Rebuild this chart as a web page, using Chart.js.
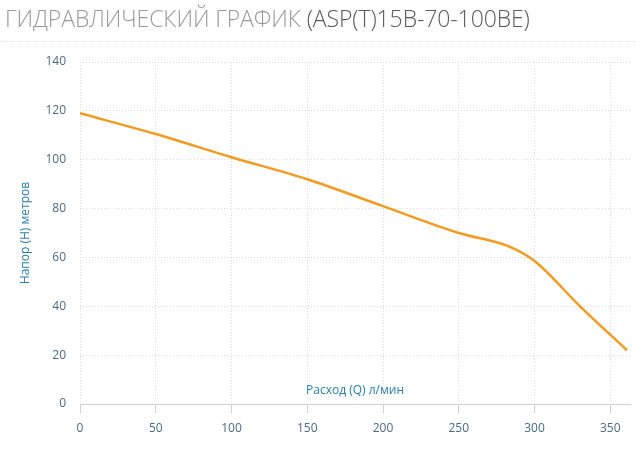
<!DOCTYPE html>
<html><head><meta charset="utf-8">
<script src="https://cdn.jsdelivr.net/npm/chart.js@4"></script>
<style>
html,body{margin:0;padding:0;background:#fff;}
#wrap{position:relative;width:636px;height:451px;}
#title{position:absolute;left:5px;top:2px;font-family:"Open Sans",sans-serif;font-weight:300;font-size:23px;color:#9a9a9a;white-space:nowrap;letter-spacing:-0.1px;}
#title span{color:#5a5a5a;}
#sep{position:absolute;left:0;top:41px;width:636px;border-top:1px dotted #e2e2e2;}
canvas{position:absolute;left:0;top:0;}
</style></head><body>
<div id="wrap">
<canvas id="c" width="636" height="451"></canvas>
<div id="title">ГИДРАВЛИЧЕСКИЙ ГРАФИК <span>(ASP(T)15B-70-100BE)</span></div>
<div id="sep"></div>
</div>
<script>
const flowQ = [0, 50, 100, 150, 200, 250, 283, 300, 330, 361];
const headH = [119, 110.5, 101, 92, 81, 70, 64.5, 58.5, 40, 22];
const xTicks = [0, 50, 100, 150, 200, 250, 300, 350];
const yTicks = [0, 20, 40, 60, 80, 100, 120, 140];
const xTitle = "Расход (Q) л/мин";
const yTitle = "Напор (H) метров";

const points = flowQ.map((q, i) => ({x: q, y: headH[i]}));

const xTitlePlugin = {
  id: 'xTitle',
  afterDraw(chart) {
    const {ctx, chartArea} = chart;
    ctx.save();
    ctx.font = '12px "Open Sans", sans-serif';
    ctx.fillStyle = '#2a7fa9';
    ctx.textAlign = 'center';
    ctx.textBaseline = 'middle';
    ctx.fillText(xTitle, (chartArea.left + chartArea.right) / 2, chartArea.bottom - 13);
    ctx.restore();
  }
};

new Chart(document.getElementById('c'), {
  type: 'line',
  data: {datasets: [{
    data: points,
    borderColor: '#f39a21',
    borderWidth: 2.5,
    pointRadius: 0,
    fill: false,
    cubicInterpolationMode: 'monotone'
  }]},
  options: {
    responsive: false,
    animation: false,
    layout: {padding: {top: 62, right: 6, left: 0, bottom: 0}},
    plugins: {legend: {display: false}, tooltip: {enabled: false}},
    scales: {
      x: {
        type: 'linear', min: 0, max: 363,
        afterBuildTicks: s => { s.ticks = xTicks.map(v => ({value: v})); },
        afterFit: s => { s.height = 47; },
        ticks: {color: '#4a6a80', font: {family: 'Open Sans', size: 12}, padding: 8, maxRotation: 0},
        grid: {color: '#dcdcdc', lineWidth: 1, drawTicks: true, tickLength: 9, tickColor: '#cfcfcf', tickBorderDash: [], tickWidth: 1},
        border: {display: true, color: '#cfcfcf', width: 1, dash: [1, 2]}
      },
      y: {
        type: 'linear', min: 0, max: 140,
        afterBuildTicks: s => { s.ticks = yTicks.map(v => ({value: v})); },
        afterFit: s => { s.width = 80; },
        ticks: {color: '#4a6a80', font: {family: 'Open Sans', size: 12}, padding: 14},
        grid: {color: c => c.tick && c.tick.value === 0 ? 'rgba(0,0,0,0)' : '#dcdcdc', lineWidth: 1, drawTicks: false},
        border: {display: false, dash: [1, 2]},
        title: {display: true, text: yTitle, color: '#2a7fa9', font: {family: 'Open Sans', size: 12}, padding: {top: 18, bottom: 0}}
      }
    }
  },
  plugins: [xTitlePlugin]
});
</script>
</body></html>
